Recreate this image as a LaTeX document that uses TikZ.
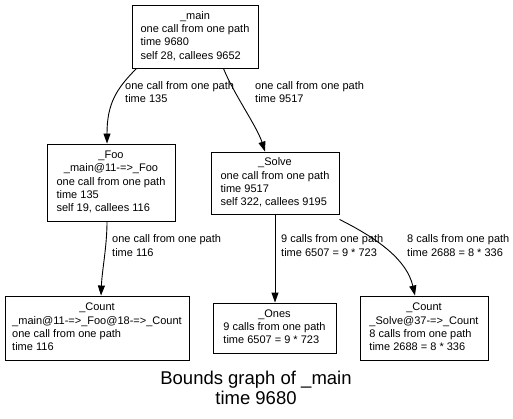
\documentclass[tikz,border=0pt]{standalone}
\usepackage{fontspec}
\setmainfont{Liberation Sans}
\usetikzlibrary{arrows.meta}
\newcommand{\ctrline}[1]{\multicolumn{1}{@{}c@{}}{#1}}

\begin{document}
\begin{tikzpicture}[x=1pt,y=-1pt,>={Triangle[length=10pt,width=7pt]},
  fn/.style={draw,line width=0.9pt,inner sep=0pt,font=\fontsize{11}{13.3}\selectfont},
  lbl/.style={anchor=base west,align=left,inner sep=0pt,font=\fontsize{11}{13.3}\selectfont},
  call/.style={->,line width=0.9pt}]
\useasboundingbox[fill=white] (0,0) rectangle (513,419);
% functions
\node[fn,minimum width=126pt,minimum height=63pt] (main) at (195,36.5)
  {\begin{tabular}{@{}l@{}}\ctrline{\_main}\\one call from one path\\time 9680\\self 28, callees 9652\end{tabular}};
\node[fn,minimum width=128pt,minimum height=77pt] (foo) at (111,182.5)
  {\begin{tabular}{@{}l@{}}\ctrline{\_Foo}\\\ctrline{\_main@11-=>\_Foo}\\one call from one path\\time 135\\self 19, callees 116\end{tabular}};
\node[fn,minimum width=128pt,minimum height=62pt] (solve) at (275,183)
  {\begin{tabular}{@{}l@{}}\ctrline{\_Solve}\\one call from one path\\time 9517\\self 322, callees 9195\end{tabular}};
\node[fn,minimum width=184pt,minimum height=64pt] (countfoo) at (97,328)
  {\begin{tabular}{@{}l@{}}\ctrline{\_Count}\\\_main@11-=>\_Foo@18-=>\_Count\\one call from one path\\time 116\end{tabular}};
\node[fn,minimum width=123pt,minimum height=50pt] (ones) at (274.5,328)
  {\begin{tabular}{@{}l@{}}\ctrline{\_Ones}\\9 calls from one path\\time 6507 = 9 * 723\end{tabular}};
\node[fn,minimum width=128pt,minimum height=64pt] (countsolve) at (424,328)
  {\begin{tabular}{@{}l@{}}\ctrline{\_Count}\\\_Solve@37-=>\_Count\\8 calls from one path\\time 2688 = 8 * 336\end{tabular}};
% calls
\draw[call] ([xshift=5pt]main.south west) .. controls +(-20,20) and +(0,-40) .. ([xshift=-4pt]foo.north);
\draw[call] ([xshift=-35pt]main.south east) .. controls +(10,25) and +(-8,-25) .. ([xshift=-10pt]solve.north);
\draw[call] ([xshift=-4pt]foo.south) .. controls +(0,25) and +(1,-25) .. ([xshift=4pt]countfoo.north);
\draw[call] (solve.south) -- (solve.south |- ones.north);
\draw[call] ([yshift=-5pt]solve.south east) .. controls +(40,20) and +(-8,-35) .. ([xshift=-9pt]countsolve.north);
% labels
\node[lbl] (l1) at (125,103) {one call from one path\\time 135};
\node[lbl] (l2) at (255,103) {one call from one path\\time 9517};
\node[lbl] (l3) at (112,256) {one call from one path\\time 116};
\node[lbl] (l4) at (281,256) {9 calls from one path\\time 6507 = 9 * 723};
\node[lbl] (l5) at (407,256) {8 calls from one path\\time 2688 = 8 * 336};
\node[font=\fontsize{18.5}{20}\selectfont,align=center] (title) at (256,388)
  {Bounds graph of \_main\\time 9680};
\end{tikzpicture}
\end{document}
